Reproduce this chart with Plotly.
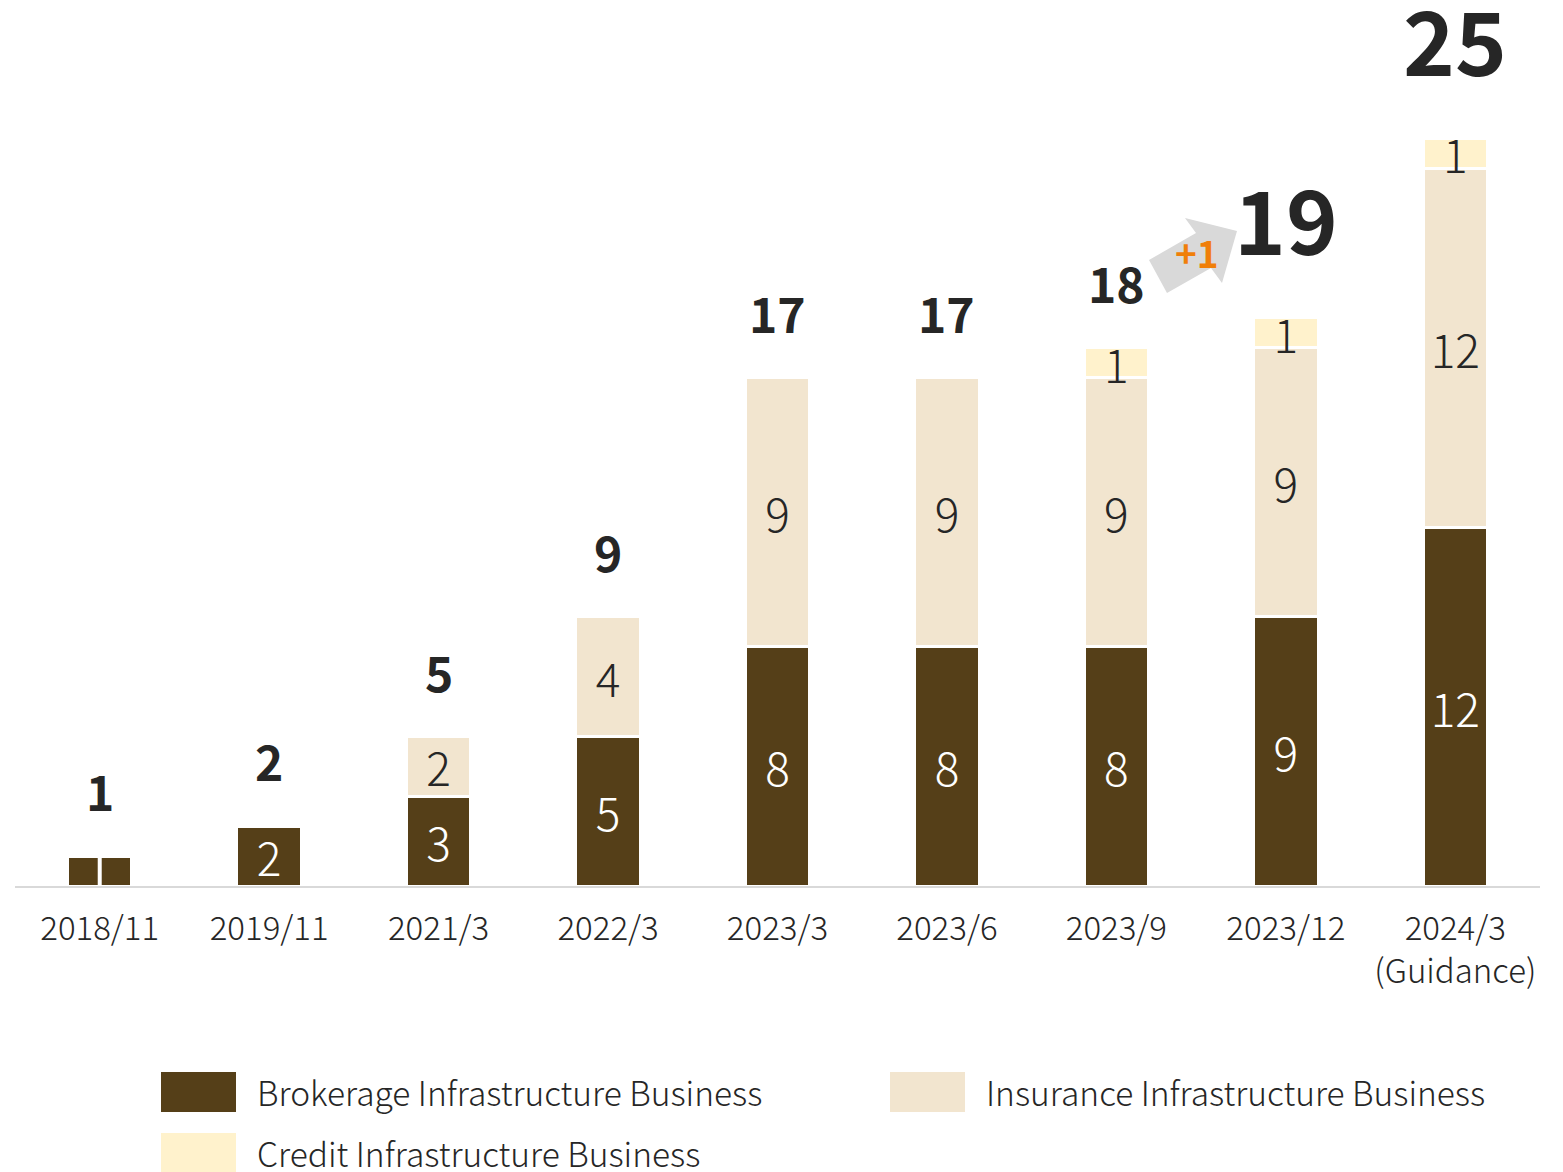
import plotly.graph_objects as go

# Company counts per business line, by period
periods = ["2018/11", "2019/11", "2021/3", "2022/3", "2023/3", "2023/6", "2023/9", "2023/12", "2024/3"]
tick_labels = ["2018/11", "2019/11", "2021/3", "2022/3", "2023/3", "2023/6", "2023/9", "2023/12",
               "2024/3<br>(Guidance)"]
brokerage = [1, 2, 3, 5, 8, 8, 8, 9, 12]
insurance = [0, 0, 2, 4, 9, 9, 9, 9, 12]
credit = [0, 0, 0, 0, 0, 0, 1, 1, 1]
totals = [b + i + c for b, i, c in zip(brokerage, insurance, credit)]
brokerage_text = ["", "2", "3", "5", "8", "8", "8", "9", "12"]

C_BROKER = "#553F18"
C_INSUR = "#F2E5CF"
C_CREDIT = "#FFF2CC"
TXT = "#262626"
FONT = "Noto Sans CJK JP"

W, H = 1563, 1172
ML, MR, MT, MB = 15, 23, 0, 286
PW, PH = W - ML - MR, H - MT - MB


def px(x):
    return (x - ML) / PW


def py(y):
    return (H - MB - y) / PH


def seg_text(vals):
    return [str(v) if v else "" for v in vals]


def stack_trace(name, values, labels, color, text_color):
    return go.Bar(x=periods, y=values, name=name,
                  marker=dict(color=color, line=dict(color="white", width=3)),
                  text=labels, textposition="inside", insidetextanchor="middle", textangle=0,
                  constraintext="none", cliponaxis=False,
                  textfont=dict(color=text_color, size=46, family=FONT, weight=300),
                  hoverinfo="skip")


fig = go.Figure()
fig.add_trace(stack_trace("Brokerage Infrastructure Business", brokerage, brokerage_text, C_BROKER, "white"))
fig.add_trace(stack_trace("Insurance Infrastructure Business", insurance, seg_text(insurance), C_INSUR, TXT))
fig.add_trace(stack_trace("Credit Infrastructure Business", credit, seg_text(credit), C_CREDIT, TXT))

annotations = []
# Totals above each stack; the latest two are emphasised
for i, (p, t) in enumerate(zip(periods, totals)):
    big = i >= len(periods) - 2
    annotations.append(dict(x=p, y=t, xref="x", yref="y", text=str(t), showarrow=False,
                            yanchor="middle", yshift=101 if big else 66,
                            font=dict(size=88 if big else 48, color=TXT, family=FONT, weight=700)))

# Quarter-on-quarter change marker
annotations.append(dict(x=px(1197), y=py(252), xref="paper", yref="paper", text="+1",
                        showarrow=False, xanchor="center", yanchor="middle",
                        font=dict(size=37, color="#F07F09", family=FONT, weight=700)))

shapes = []
# Divider on the first stack
shapes.append(dict(type="line", xref="x", yref="y", x0=periods[0], x1=periods[0],
                   y0=0, y1=brokerage[0], line=dict(color="white", width=4), layer="above"))

# Block arrow between 2023/9 and 2023/12
arrow_pts = [(1149, 260), (1196, 233), (1185, 218), (1237, 231), (1222, 283), (1211, 268), (1167, 293)]
path = "M " + " L ".join(f"{px(x):.5f},{py(y):.5f}" for x, y in arrow_pts) + " Z"
shapes.append(dict(type="path", xref="paper", yref="paper", path=path,
                   fillcolor="#D9D9D9", line=dict(width=0), layer="below"))

# Legend
legend_items = [
    ("Brokerage Infrastructure Business", C_BROKER, 161, 1092),
    ("Insurance Infrastructure Business", C_INSUR, 890, 1092),
    ("Credit Infrastructure Business", C_CREDIT, 161, 1153),
]
for label, color, lx, ly in legend_items:
    shapes.append(dict(type="rect", xref="paper", yref="paper",
                       x0=px(lx), x1=px(lx + 75), y0=py(ly + 20), y1=py(ly - 20),
                       fillcolor=color, line=dict(width=0)))
    annotations.append(dict(x=px(lx + 94), y=py(ly - 1), xref="paper", yref="paper", text=label,
                            showarrow=False, xanchor="left", yanchor="middle",
                            font=dict(size=33.5, color=TXT, family=FONT, weight=300)))

fig.update_layout(
    barmode="stack",
    bargap=0.62,
    width=W, height=H,
    margin=dict(l=ML, r=MR, t=MT, b=MB),
    paper_bgcolor="white", plot_bgcolor="white",
    showlegend=False,
    uniformtext=dict(minsize=46, mode="show"),
    annotations=annotations,
    shapes=shapes,
    xaxis=dict(tickmode="array", tickvals=periods, ticktext=tick_labels,
               showline=True, linecolor="#D9D9D9", linewidth=2, showgrid=False,
               ticks="", ticklabelstandoff=12,
               tickfont=dict(size=33, color=TXT, family=FONT, weight=300),
               range=[-0.5, len(periods) - 0.5]),
    yaxis=dict(visible=False, range=[0, PH / 29.9]),
)

fig.write_html("out.html")
